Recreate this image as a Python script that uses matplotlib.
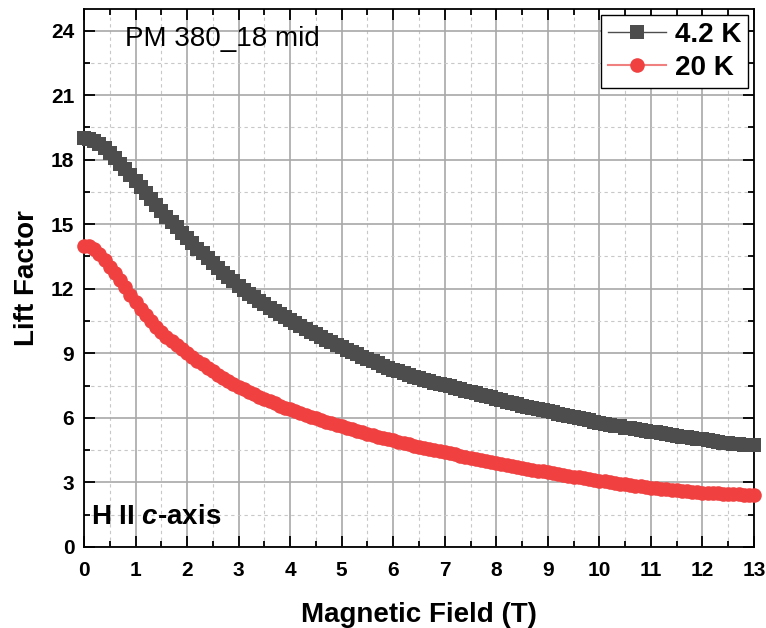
import numpy as np
import matplotlib
matplotlib.use('Agg')
import matplotlib.pyplot as plt
from matplotlib.ticker import MultipleLocator

plt.rcParams['font.family'] = ['Liberation Sans', 'DejaVu Sans']
plt.rcParams['mathtext.fontset'] = 'custom'
plt.rcParams['mathtext.bfit'] = 'Liberation Sans:italic:bold'

# magnetic field (T), 0.1 T steps
field = [i / 10 for i in range(131)]

lift_4k = [19.00, 18.97, 18.88, 18.72, 18.52, 18.30, 18.06, 17.80, 17.55, 17.28,
           17.00, 16.72, 16.44, 16.16, 15.88, 15.60, 15.35, 15.10, 14.85, 14.60,
           14.35, 14.11, 13.87, 13.64, 13.42, 13.20, 12.97, 12.75, 12.54, 12.34,
           12.14, 11.95, 11.77, 11.60, 11.43, 11.27, 11.12, 10.97, 10.82, 10.67,
           10.53, 10.40, 10.27, 10.14, 10.01, 9.88, 9.76, 9.64, 9.52, 9.40,
           9.28, 9.17, 9.06, 8.95, 8.84, 8.73, 8.63, 8.53, 8.43, 8.33,
           8.24, 8.16, 8.08, 8.00, 7.92, 7.85, 7.78, 7.71, 7.64, 7.58,
           7.52, 7.46, 7.39, 7.33, 7.27, 7.21, 7.15, 7.08, 7.02, 6.95,
           6.88, 6.82, 6.76, 6.70, 6.63, 6.57, 6.52, 6.46, 6.41, 6.35,
           6.30, 6.25, 6.19, 6.14, 6.08, 6.03, 5.98, 5.93, 5.88, 5.83,
           5.78, 5.73, 5.69, 5.64, 5.60, 5.55, 5.51, 5.47, 5.43, 5.40,
           5.36, 5.32, 5.28, 5.24, 5.20, 5.16, 5.13, 5.10, 5.06, 5.03,
           5.00, 4.96, 4.92, 4.89, 4.85, 4.82, 4.80, 4.78, 4.76, 4.75,
           4.74]

lift_20k = [14.00, 13.98, 13.86, 13.62, 13.32, 13.01, 12.71, 12.40, 12.07, 11.73,
            11.40, 11.08, 10.78, 10.50, 10.24, 10.00, 9.78, 9.57, 9.37, 9.18,
            9.00, 8.82, 8.65, 8.48, 8.32, 8.16, 8.01, 7.86, 7.72, 7.58,
            7.45, 7.33, 7.21, 7.09, 6.98, 6.87, 6.77, 6.67, 6.57, 6.48,
            6.39, 6.30, 6.22, 6.14, 6.06, 5.98, 5.90, 5.82, 5.75, 5.68,
            5.61, 5.54, 5.47, 5.40, 5.33, 5.26, 5.19, 5.13, 5.07, 5.01,
            4.95, 4.89, 4.83, 4.77, 4.71, 4.66, 4.60, 4.55, 4.50, 4.45,
            4.40, 4.35, 4.30, 4.25, 4.20, 4.15, 4.10, 4.05, 4.00, 3.95,
            3.91, 3.86, 3.81, 3.77, 3.72, 3.68, 3.63, 3.59, 3.55, 3.51,
            3.47, 3.43, 3.39, 3.35, 3.31, 3.27, 3.23, 3.19, 3.16, 3.12,
            3.08, 3.05, 3.01, 2.98, 2.95, 2.92, 2.88, 2.85, 2.82, 2.79,
            2.76, 2.73, 2.71, 2.68, 2.66, 2.63, 2.61, 2.59, 2.57, 2.55,
            2.53, 2.52, 2.50, 2.49, 2.47, 2.46, 2.45, 2.44, 2.43, 2.43,
            2.42]

labels = ['4.2 K', '20 K']

fig = plt.figure(figsize=(7.66, 6.28), dpi=100)
ax = fig.add_axes([0.1097, 0.129, 0.8746, 0.8567])

ax.plot(field, lift_4k, color='#4d4d4d', lw=1.0, marker='s', ms=10,
        mec='#4d4d4d', mfc='#4d4d4d', mew=0, label=labels[0], clip_on=False, zorder=3)
ax.plot(field, lift_20k, color='#f08080', lw=1.5, marker='o', ms=10.5,
        mec='#f04040', mfc='#f04040', mew=0, label=labels[1], clip_on=False, zorder=3)

ax.set_xlim(0, 13)
ax.set_ylim(0, 25)
ax.xaxis.set_major_locator(MultipleLocator(1))
ax.xaxis.set_minor_locator(MultipleLocator(0.5))
ax.yaxis.set_major_locator(MultipleLocator(3))
ax.yaxis.set_minor_locator(MultipleLocator(1.5))

ax.grid(which='major', color='#a8a8a8', lw=1.2, ls='-')
ax.grid(which='minor', color='#c8c8c8', lw=0.8, ls=(0, (3, 3)))
ax.set_axisbelow(True)

ax.tick_params(which='both', direction='in', top=True, right=True, width=1.3)
ax.tick_params(which='major', length=8, labelsize=15)
ax.tick_params(axis='x', which='major', pad=10)
ax.tick_params(axis='y', which='major', pad=7)
ax.tick_params(which='minor', length=4)
for lab in ax.get_xticklabels() + ax.get_yticklabels():
    lab.set_fontweight('bold')
for sp in ax.spines.values():
    sp.set_linewidth(1.3)

ax.set_xlabel('Magnetic Field (T)', fontsize=20, fontweight='bold', labelpad=16)
ax.set_ylabel('Lift Factor', fontsize=20, fontweight='bold', labelpad=8)

ax.text(0.061, 0.945, 'PM 380_18 mid', transform=ax.transAxes, fontsize=20,
        va='center', ha='left')
ax.text(0.010, 0.055, r'H II $\mathbfit{c}$-axis', transform=ax.transAxes,
        fontsize=20, fontweight='bold', va='center', ha='left')

leg = ax.legend(loc='upper right', frameon=True, fancybox=False,
                edgecolor='black', framealpha=1, handlelength=2.1,
                handletextpad=0.3, borderpad=0.25, labelspacing=0.25,
                borderaxespad=0.22, prop={'weight': 'bold', 'size': 20})
leg.get_frame().set_linewidth(1.0)

fig.savefig('out.png', dpi=100)
